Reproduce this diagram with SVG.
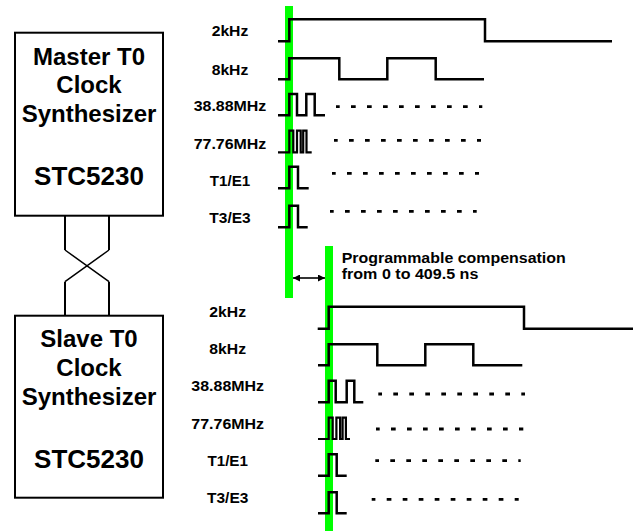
<svg xmlns="http://www.w3.org/2000/svg" width="633" height="531" viewBox="0 0 633 531">
<style>
.box{fill:#fff;stroke:#000;stroke-width:2}
.bt{font-family:"Liberation Sans",Arial,sans-serif;font-weight:bold;font-size:24px;text-anchor:middle;fill:#000}
.big{font-size:26px}
.lb{font-family:"Liberation Sans",Arial,sans-serif;font-weight:bold;font-size:14px;text-anchor:middle;fill:#000}
.note{font-family:"Liberation Sans",Arial,sans-serif;font-weight:bold;font-size:14px;fill:#000}
.wave{fill:none;stroke:#000;stroke-width:2.5}
.fast{stroke-width:2.2}
.dots{fill:none;stroke:#000;stroke-width:2.8;stroke-dasharray:4.7 11.3;stroke-dashoffset:1}
.green{fill:#00ff00}
.wire{fill:none;stroke:#000;stroke-width:2}
.cross{fill:none;stroke:#000;stroke-width:1.5}
</style>
<defs>
<marker id="ah" viewBox="0 0 10 10" refX="10" refY="5" markerWidth="8" markerHeight="7" markerUnits="userSpaceOnUse" orient="auto-start-reverse">
<path d="M0,0 L10,5 L0,10 z" fill="#000"/>
</marker>
</defs>

<rect class="green" x="285" y="6" width="8" height="292"/>
<rect class="green" x="325" y="246" width="8" height="285"/>

<g id="connectors">
<path class="wire" d="M65,215.7 V250 M109,215.7 V250 M65,281.7 V315.7 M109,281.7 V315.7"/>
<path class="cross" d="M65,250 L109,281.7 M109,250 L65,281.7"/>
<line x1="293" y1="278" x2="325" y2="278" stroke="#000" stroke-width="1.6" marker-start="url(#ah)" marker-end="url(#ah)"/>
</g>

<g id="master">
<rect class="box" x="15" y="32.7" width="148" height="183"/>
<text class="bt" x="89" y="65">Master T0</text>
<text class="bt" x="89" y="93.3">Clock</text>
<text class="bt" x="89" y="121.7">Synthesizer</text>
<text class="bt big" x="89" y="185">STC5230</text>
</g>

<g id="slave">
<rect class="box" x="15" y="315.7" width="148" height="182"/>
<text class="bt" x="89" y="346.7">Slave T0</text>
<text class="bt" x="89" y="375.7">Clock</text>
<text class="bt" x="89" y="405">Synthesizer</text>
<text class="bt big" x="89" y="468.3">STC5230</text>
</g>

<g id="master-signals">
<text class="lb" x="230" y="36" textLength="36.7" lengthAdjust="spacingAndGlyphs">2kHz</text>
<text class="lb" x="230" y="74.5" textLength="36.7" lengthAdjust="spacingAndGlyphs">8kHz</text>
<text class="lb" x="230" y="111" textLength="72.7" lengthAdjust="spacingAndGlyphs">38.88MHz</text>
<text class="lb" x="230" y="148.5" textLength="72.7" lengthAdjust="spacingAndGlyphs">77.76MHz</text>
<text class="lb" x="230" y="186" textLength="40.5" lengthAdjust="spacingAndGlyphs">T1/E1</text>
<text class="lb" x="230" y="223" textLength="41.3" lengthAdjust="spacingAndGlyphs">T3/E3</text>
<path class="wave" d="M278,41.3 H289.3 V19.3 H485 V41.3 H612"/>
<path class="wave" d="M278,79.3 H289.3 V58.3 H339.3 V79.3 H387.3 V58.3 H435.7 V79.3 H484"/>
<path class="wave" d="M278,115.3 H289.3 V94 H297 V115.3 H306.3 V94 H314.7 V115.3 H325"/>
<path class="wave fast" d="M278,152.3 H289.3 V130.7 H293.3 V152.3 H297 V130.7 H300.7 V152.3 H303.2 V130.7 H306.5 V152.3 H311.7"/>
<path class="wave" d="M278,188.3 H289.3 V166.7 H298 V188.3 H308.7"/>
<path class="wave" d="M278,227.3 H289.3 V205.7 H298 V227.3 H307.7"/>
<line class="dots" x1="336" y1="106.7" x2="482.3" y2="106.7"/>
<line class="dots" x1="334" y1="140.3" x2="481" y2="140.3"/>
<line class="dots" x1="332" y1="173.3" x2="479" y2="173.3"/>
<line class="dots" x1="330" y1="211.3" x2="476.7" y2="211.3"/>
</g>

<g id="compensation-label">
<text class="note" x="341.7" y="262.5" textLength="224" lengthAdjust="spacingAndGlyphs">Programmable compensation</text>
<text class="note" x="341.7" y="279" textLength="136.7" lengthAdjust="spacingAndGlyphs">from 0 to 409.5 ns</text>
</g>

<g id="slave-signals">
<text class="lb" x="227.7" y="317.3" textLength="36.7" lengthAdjust="spacingAndGlyphs">2kHz</text>
<text class="lb" x="227.7" y="354" textLength="36.7" lengthAdjust="spacingAndGlyphs">8kHz</text>
<text class="lb" x="227.7" y="391" textLength="72.7" lengthAdjust="spacingAndGlyphs">38.88MHz</text>
<text class="lb" x="227.7" y="429" textLength="72.7" lengthAdjust="spacingAndGlyphs">77.76MHz</text>
<text class="lb" x="227.7" y="465.7" textLength="40.5" lengthAdjust="spacingAndGlyphs">T1/E1</text>
<text class="lb" x="227.7" y="502.7" textLength="41.3" lengthAdjust="spacingAndGlyphs">T3/E3</text>
<path class="wave" d="M317.7,328.7 H328.7 V306.7 H524 V328.7 H633"/>
<path class="wave" d="M318,365.3 H328.7 V344.3 H377.3 V365.3 H425.3 V344.3 H473.3 V365.3 H522.3"/>
<path class="wave" d="M318,402.3 H328.7 V380.7 H335.7 V402.3 H346.7 V380.7 H354.3 V402.3 H363.3"/>
<path class="wave fast" d="M318,439 H328.7 V417.7 H332.7 V439 H336.4 V417.7 H340.1 V439 H342.6 V417.7 H345.9 V439 H350"/>
<path class="wave" d="M318,475.7 H328.7 V454.3 H336.7 V475.7 H346.7"/>
<path class="wave" d="M318,513.3 H328.7 V492.3 H336.7 V513.3 H346.7"/>
<line class="dots" x1="378.3" y1="394" x2="525" y2="394"/>
<line class="dots" x1="376" y1="429" x2="523.3" y2="429"/>
<line class="dots" x1="375.3" y1="460.7" x2="520.7" y2="460.7"/>
<line class="dots" x1="371.7" y1="499.3" x2="518.7" y2="499.3"/>
</g>
</svg>
